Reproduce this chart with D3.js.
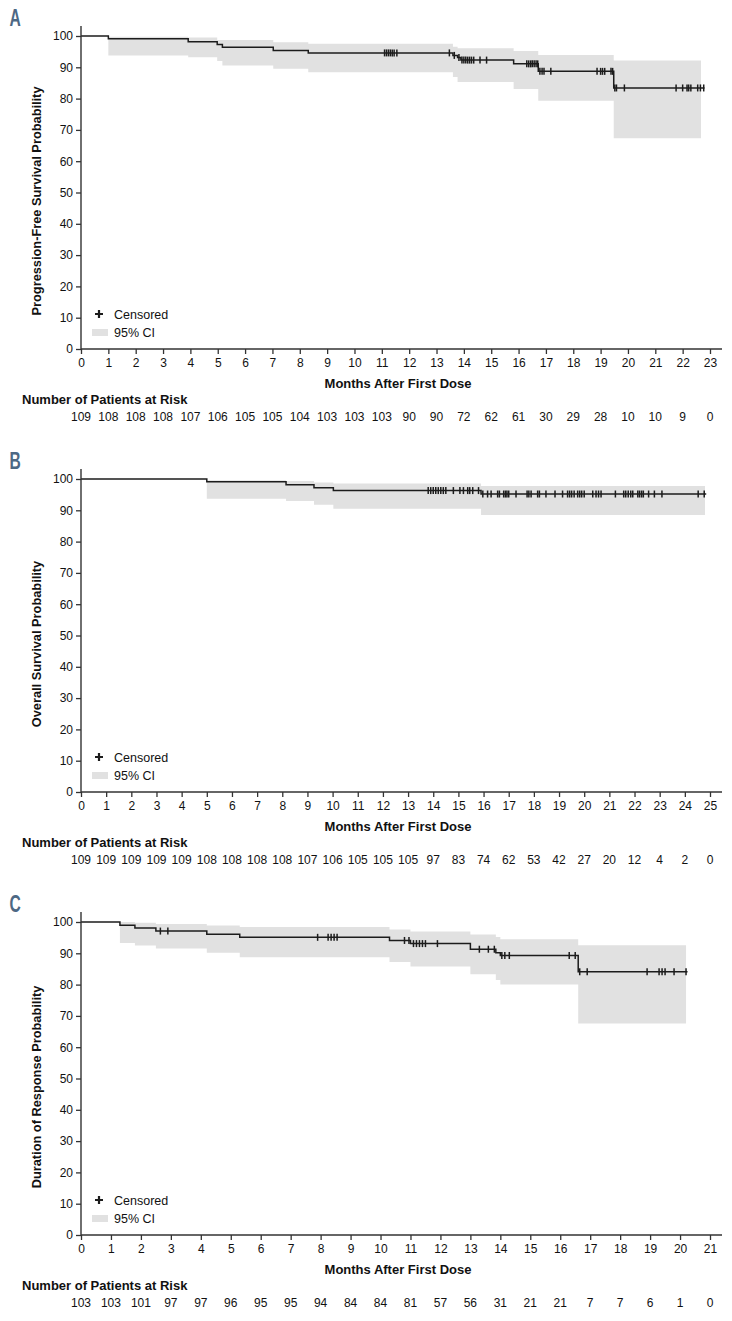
<!DOCTYPE html>
<html><head><meta charset="utf-8">
<script src="https://cdn.jsdelivr.net/npm/d3@7"></script>
<style>body{margin:0;background:#fff;} svg{display:block;font-family:"Liberation Sans",Arial,sans-serif;}</style>
</head><body><svg id="chart" width="732" height="1321"></svg>
<script>
// ---------- Shared text ----------
const xAxisTitle = "Months After First Dose";
const riskTitle = "Number of Patients at Risk";
const legendCensored = "Censored";
const legendCI = "95% CI";
const yTickValues = [0,10,20,30,40,50,60,70,80,90,100];

// ---------- Panel A: Progression-free survival ----------
const pfsLabel = "A";
const pfsYTitle = "Progression-Free Survival Probability";
const pfsMaxMonth = 23;
const pfsTimes = [0, 1.0, 3.92, 4.98, 5.17, 7.03, 8.31, 13.6, 13.77, 13.89, 15.82, 16.72, 19.48];
const pfsSurv  = [100, 99.1, 98.2, 97.3, 96.4, 95.4, 94.6, 93.8, 93.1, 92.3, 91.1, 88.7, 83.4];
const pfsLower = [100, 93.8, 93.2, 92.0, 90.6, 89.5, 88.4, 86.9, 85.3, 85.3, 83.1, 79.3, 67.3];
const pfsUpper = [100, 99.8, 99.5, 98.7, 98.7, 98.0, 97.5, 96.6, 96.1, 96.1, 95.2, 93.9, 92.2];
const pfsLineEnd = 22.8;
const pfsBandEnd = 22.67;
const pfsCensored = [11.1, 11.17, 11.24, 11.31, 11.38, 11.45, 11.55, 13.47, 13.65, 13.82, 13.93, 14.0, 14.07, 14.14, 14.21, 14.28, 14.36, 14.59, 14.83,
  16.3, 16.37, 16.44, 16.5, 16.57, 16.64, 16.7, 16.78, 16.86, 16.93, 17.18, 18.87, 19.0, 19.07, 19.15, 19.38, 19.44, 19.52, 19.58, 19.87,
  21.76, 22.0, 22.16, 22.22, 22.3, 22.55, 22.65, 22.77];
const pfsAtRisk = [109,108,108,108,107,106,105,105,104,103,103,103,90,90,72,62,61,30,29,28,10,10,9,0];

// ---------- Panel B: Overall survival ----------
const osLabel = "B";
const osYTitle = "Overall Survival Probability";
const osMaxMonth = 25;
const osTimes = [0, 5.0, 8.15, 9.26, 10.03, 15.9];
const osSurv  = [100, 99.1, 98.2, 97.2, 96.3, 95.2];
const osLower = [100, 93.7, 93.0, 91.8, 90.5, 88.5];
const osUpper = [100, 99.6, 99.4, 98.9, 98.6, 97.8];
const osLineEnd = 24.85;
const osBandEnd = 24.8;
const osCensored = [13.8, 13.9, 14.0, 14.1, 14.2, 14.3, 14.4, 14.5, 14.8, 15.06, 15.2, 15.37, 15.45, 15.57, 15.8, 15.97, 16.16, 16.3, 16.56, 16.63,
  16.8, 16.87, 16.93, 17.0, 17.29, 17.73, 17.8, 17.89, 18.15, 18.22, 18.48, 18.84, 19.14, 19.34, 19.42, 19.5, 19.6, 19.74, 19.82, 19.9, 20.0,
  20.34, 20.47, 20.57, 20.67, 21.24, 21.57, 21.65, 21.75, 21.85, 21.93, 22.13, 22.2, 22.28, 22.35, 22.56, 22.79, 23.09, 24.53, 24.77];
const osAtRisk = [109,109,109,109,109,108,108,108,108,107,106,105,105,105,97,83,74,62,53,42,27,20,12,4,2,0];

// ---------- Panel C: Duration of response ----------
const dorLabel = "C";
const dorYTitle = "Duration of Response Probability";
const dorMaxMonth = 21;
const dorTimes = [0, 1.3, 1.8, 2.5, 4.2, 5.3, 10.3, 11.0, 13.0, 13.85, 14.0, 16.6];
const dorSurv  = [100, 99.0, 98.1, 97.1, 96.1, 95.1, 94.1, 93.1, 91.3, 90.2, 89.3, 84.1];
const dorLower = [100, 93.3, 92.5, 91.5, 90.2, 88.7, 87.2, 85.8, 83.3, 81.5, 80.0, 67.6];
const dorUpper = [100, 100, 99.8, 99.4, 98.9, 98.4, 97.6, 97.0, 96.0, 95.2, 94.5, 92.6];
const dorLineEnd = 20.25;
const dorBandEnd = 20.2;
const dorCensored = [2.65, 2.9, 7.9, 8.25, 8.35, 8.45, 8.55, 10.8, 10.95, 11.1, 11.2, 11.3, 11.4, 11.5, 11.9, 13.3, 13.6, 13.8,
  14.05, 14.15, 14.3, 16.3, 16.5, 16.65, 16.9, 18.9, 19.3, 19.4, 19.5, 19.8, 20.2];
const dorAtRisk = [103,103,101,97,97,96,95,95,94,84,84,81,57,56,31,21,21,7,7,6,1,0];

// ---------- Drawing ----------
const svg = d3.select("#chart");
const INK = "#1c1c1c";
const FONT = '"Liberation Sans",Arial,sans-serif';

function stepValue(times, vals, t) {
  let v = vals[0];
  for (let i = 0; i < times.length; i++) if (times[i] <= t) v = vals[i];
  return v;
}

function drawPanel(p, off) {
  const y0 = 349 + off, yTop = 26 + off;
  const left = 81, axisRight = 722;
  const x = d3.scaleLinear().domain([0, p.maxMonth]).range([left, 710]);
  const y = d3.scaleLinear().domain([0, 100]).range([y0, y0 - 313]);
  const g = svg.append("g");

  // CI band
  const band = p.times.map((t, i) => ({t, lo: p.lower[i], hi: p.upper[i]}));
  band.push({t: p.bandEnd, lo: p.lower[p.lower.length - 1], hi: p.upper[p.upper.length - 1]});
  g.append("path").datum(band)
    .attr("d", d3.area().curve(d3.curveStepAfter).x(d => x(d.t)).y0(d => y(d.lo)).y1(d => y(d.hi)))
    .attr("fill", "#e1e1e1");

  // KM line
  const line = p.times.map((t, i) => ({t, s: p.surv[i]}));
  line.push({t: p.lineEnd, s: p.surv[p.surv.length - 1]});
  g.append("path").datum(line)
    .attr("d", d3.line().curve(d3.curveStepAfter).x(d => x(d.t)).y(d => y(d.s)))
    .attr("fill", "none").attr("stroke", INK).attr("stroke-width", 1.5);

  // Censor marks
  g.selectAll(".cens").data(p.censored).join("line")
    .attr("x1", d => x(d)).attr("x2", d => x(d))
    .attr("y1", d => y(stepValue(p.times, p.surv, d)) - 3.5)
    .attr("y2", d => y(stepValue(p.times, p.surv, d)) + 3.5)
    .attr("stroke", INK).attr("stroke-width", 1.5);

  // Axes
  const yAxis = d3.axisLeft(y).tickValues(yTickValues).tickSize(5).tickPadding(3);
  const gy = g.append("g").attr("transform", `translate(${left},0)`).call(yAxis);
  gy.select(".domain").remove();
  const xAxis = d3.axisBottom(x).tickValues(d3.range(0, p.maxMonth + 1)).tickSize(5).tickPadding(4);
  const gx = g.append("g").attr("transform", `translate(0,${y0})`).call(xAxis);
  gx.select(".domain").remove();
  [gy, gx].forEach(a => {
    a.attr("font-family", FONT);
    a.selectAll(".tick line").attr("stroke", "#333").attr("stroke-width", 1.3);
    a.selectAll(".tick text").attr("fill", "#111").style("font-size", "12px").style("font-family", FONT);
  });
  g.append("line").attr("x1", left).attr("x2", left).attr("y1", y0).attr("y2", yTop).attr("stroke", "#333").attr("stroke-width", 1.4);
  g.append("line").attr("x1", left).attr("x2", axisRight).attr("y1", y0).attr("y2", y0).attr("stroke", "#333").attr("stroke-width", 1.4);

  // Titles
  g.append("text").attr("transform", `translate(40.5,${y0 - 148}) rotate(-90)`)
    .attr("text-anchor", "middle").style("font-size", "12.8px").style("font-weight", "bold").attr("fill", "#111")
    .text(p.yTitle);
  g.append("text").attr("x", 398).attr("y", y0 + 38.5).attr("text-anchor", "middle")
    .style("font-size", "13px").style("font-weight", "bold").attr("fill", "#111").text(xAxisTitle);

  // Panel label (condensed bold)
  g.append("text").attr("transform", `translate(9.5,${yTop}) scale(0.68,1)`)
    .style("font-size", "23px").style("font-weight", "bold").attr("fill", "#4d6884").text(p.label);

  // Legend
  const ly = y0 - 35;
  g.append("path").attr("d", `M${99 - 4},${ly}H${99 + 4}M99,${ly - 4}V${ly + 4}`)
    .attr("stroke", INK).attr("stroke-width", 2.2);
  g.append("text").attr("x", 114).attr("y", ly + 4.5).style("font-size", "12.5px").attr("fill", "#111").text(legendCensored);
  g.append("rect").attr("x", 92).attr("y", y0 - 20).attr("width", 16).attr("height", 7).attr("fill", "#e1e1e1");
  g.append("text").attr("x", 114).attr("y", y0 - 12.5).style("font-size", "12.5px").attr("fill", "#111").text(legendCI);

  // Risk table
  g.append("text").attr("x", 22).attr("y", y0 + 54.5).style("font-size", "13px").style("font-weight", "bold")
    .attr("fill", "#111").text(riskTitle);
  g.selectAll(".risk").data(p.atRisk).join("text")
    .attr("x", (d, i) => x(i)).attr("y", y0 + 71.5).attr("text-anchor", "middle")
    .style("font-size", "12px").attr("fill", "#111").text(d => d);
}

drawPanel({label: pfsLabel, yTitle: pfsYTitle, maxMonth: pfsMaxMonth, times: pfsTimes, surv: pfsSurv, lower: pfsLower, upper: pfsUpper,
  lineEnd: pfsLineEnd, bandEnd: pfsBandEnd, censored: pfsCensored, atRisk: pfsAtRisk}, 0);
drawPanel({label: osLabel, yTitle: osYTitle, maxMonth: osMaxMonth, times: osTimes, surv: osSurv, lower: osLower, upper: osUpper,
  lineEnd: osLineEnd, bandEnd: osBandEnd, censored: osCensored, atRisk: osAtRisk}, 443);
drawPanel({label: dorLabel, yTitle: dorYTitle, maxMonth: dorMaxMonth, times: dorTimes, surv: dorSurv, lower: dorLower, upper: dorUpper,
  lineEnd: dorLineEnd, bandEnd: dorBandEnd, censored: dorCensored, atRisk: dorAtRisk}, 886);
</script></body></html>
